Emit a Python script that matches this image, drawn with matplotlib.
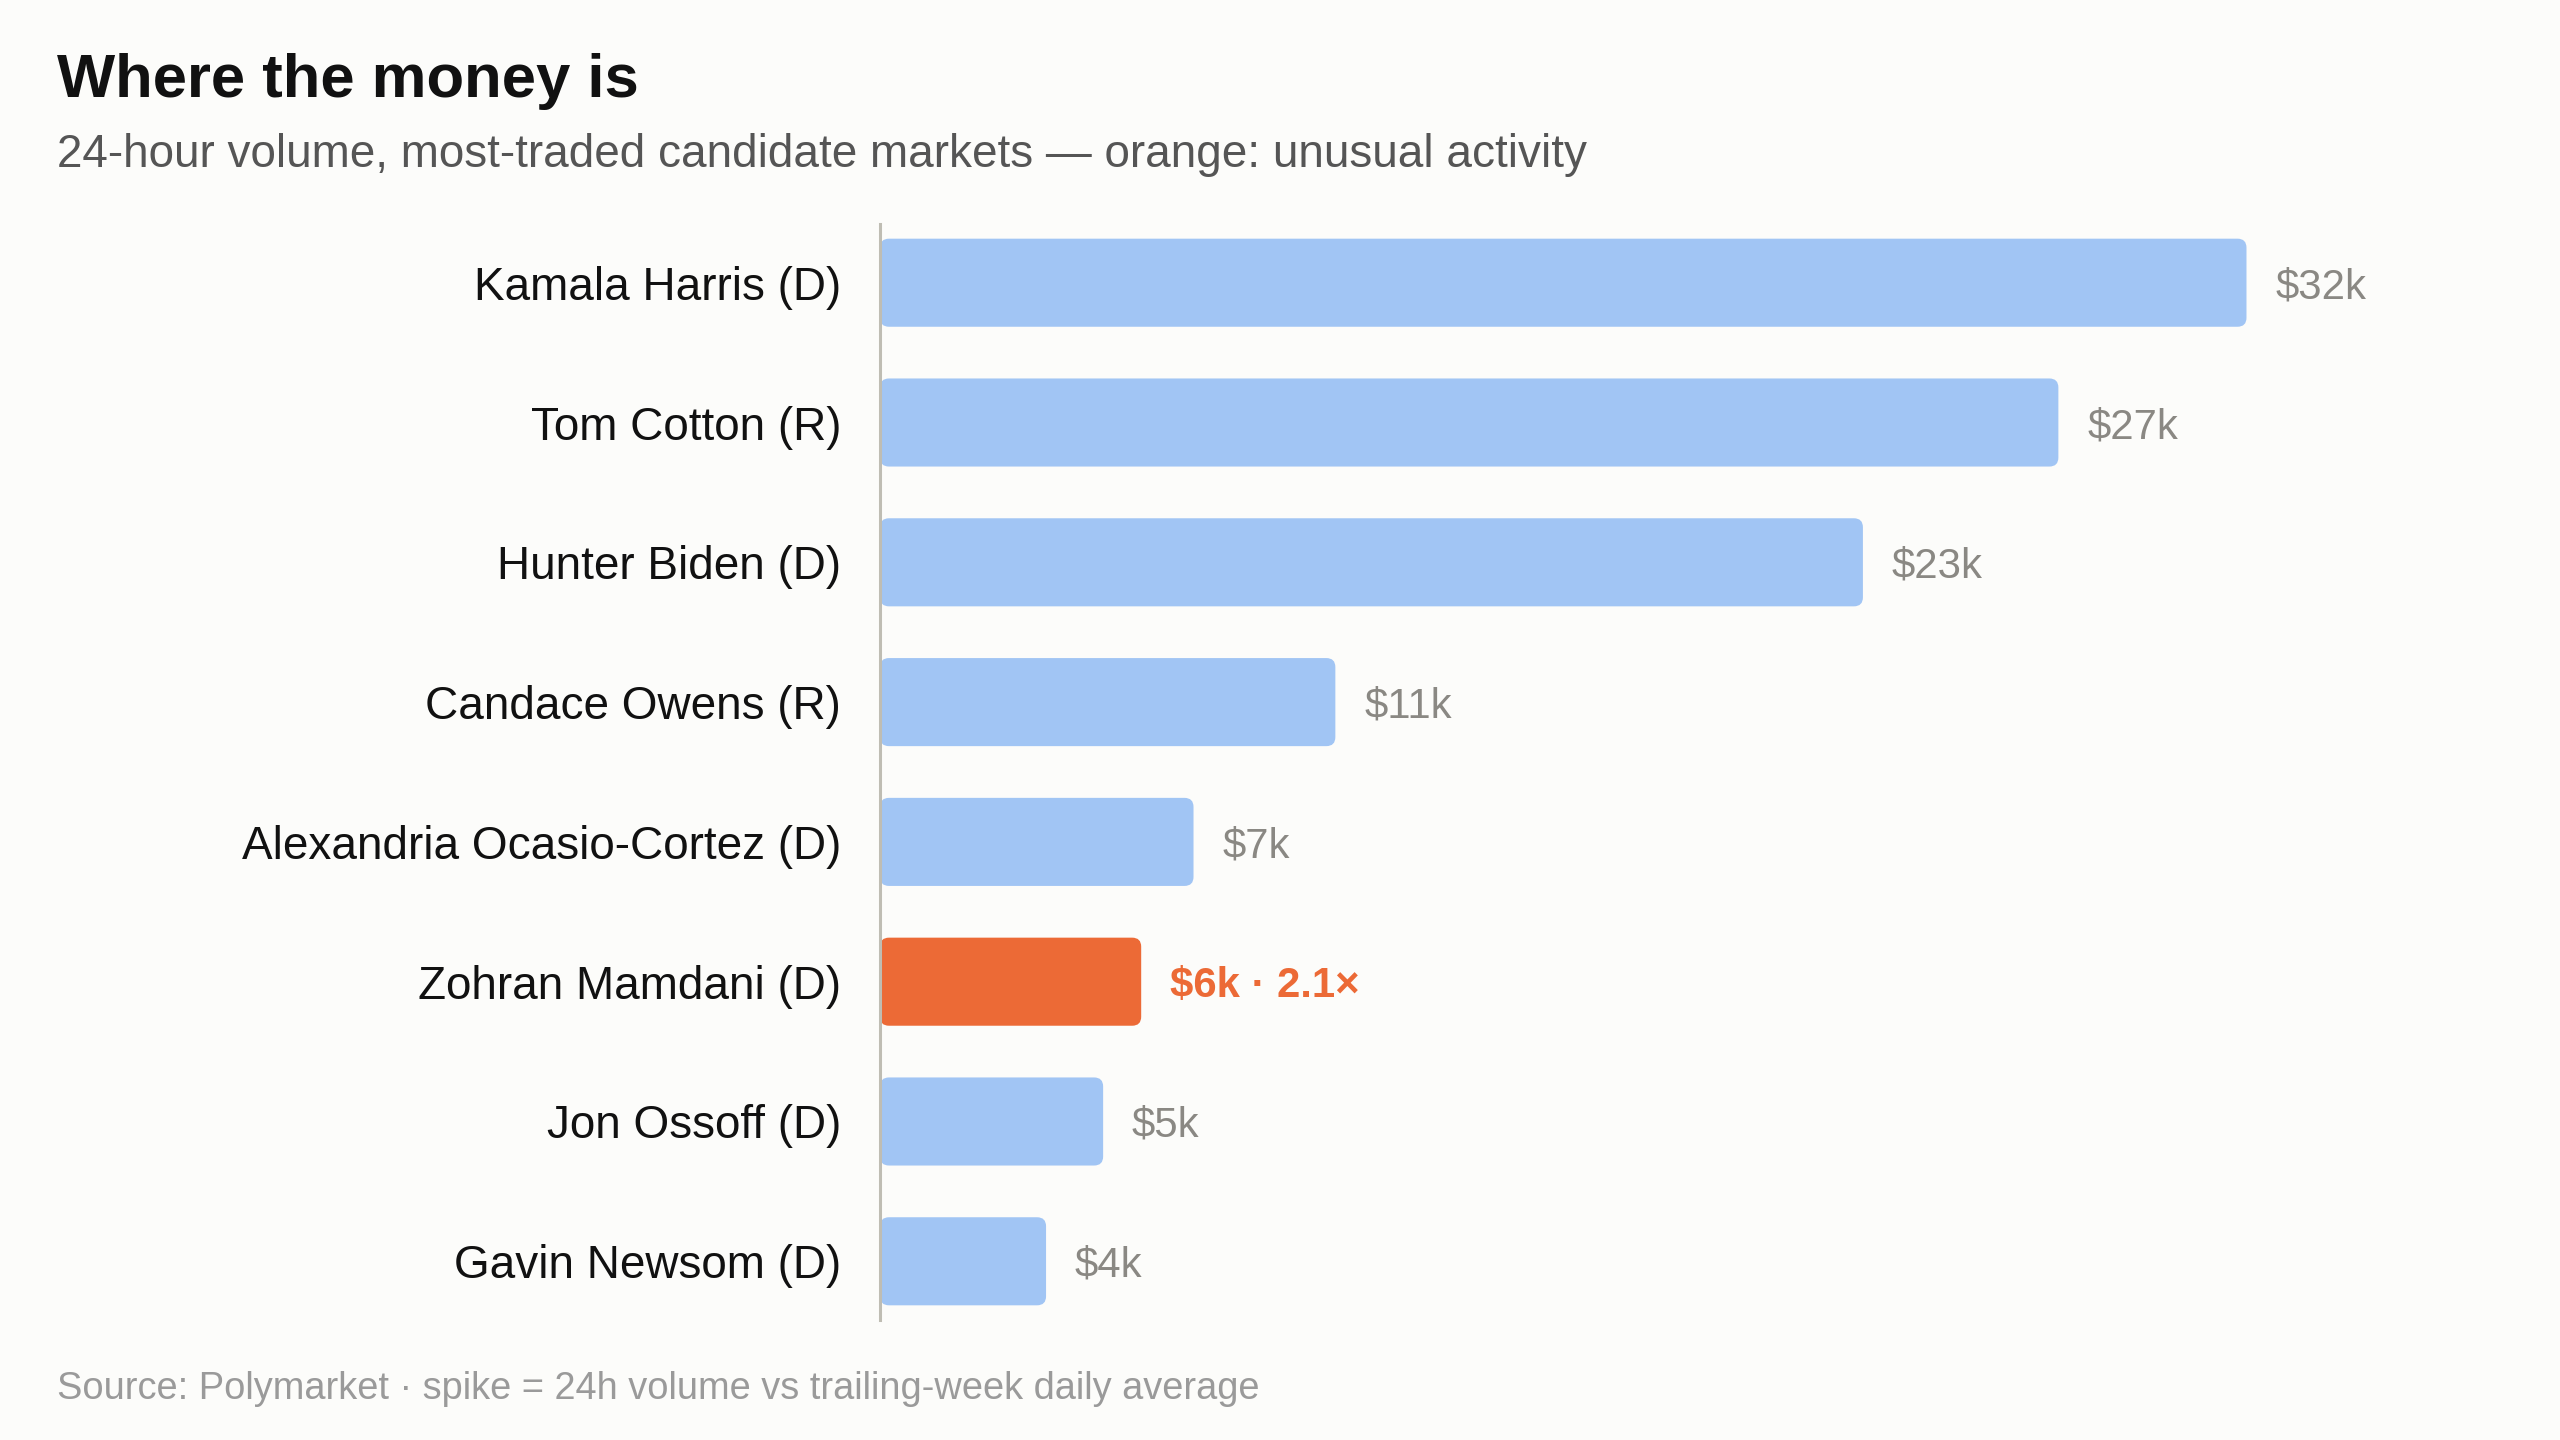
import matplotlib.pyplot as plt
from matplotlib.patches import FancyBboxPatch

plt.rcParams['font.family'] = ['Liberation Sans', 'DejaVu Sans']

# 24h volume per candidate market, in dollars
candidates = ["Kamala Harris (D)", "Tom Cotton (R)", "Hunter Biden (D)",
              "Candace Owens (R)", "Alexandria Ocasio-Cortez (D)",
              "Zohran Mamdani (D)", "Jon Ossoff (D)", "Gavin Newsom (D)"]
volume = [31600, 27250, 22730, 10530, 7250, 6040, 5160, 3840]
value_labels = ["$32k", "$27k", "$23k", "$11k", "$7k", "$6k · 2.1×", "$5k", "$4k"]
unusual = [False, False, False, False, False, True, False, False]

BG = "#fcfcfa"
BLUE = "#a1c5f4"
ORANGE = "#ec6a36"
GREY_TXT = "#8a8883"
SPINE = "#bfbdb3"

fig = plt.figure(figsize=(12.8, 7.2), dpi=200, facecolor=BG)
ax = fig.add_axes([880 / 2560, 120 / 1440, 1600 / 2560, 1096 / 1440])
ax.set_facecolor(BG)

ypos = list(range(len(candidates)))
colors = [ORANGE if u else BLUE for u in unusual]
bars = ax.barh(ypos, volume, height=0.63, color=colors)

ax.set_xlim(0, 37000)
ax.set_ylim(len(candidates) - 0.58, -0.42)

# swap the square bars for rounded ones
x_per_px = 37000 / 1600
y_per_px = (len(candidates) - 0.16) / 1096
for b, c in zip(bars, colors):
    x0, y0 = b.get_x(), b.get_y()
    w, h = b.get_width(), b.get_height()
    b.remove()
    ax.add_patch(FancyBboxPatch((x0, y0), w, h,
                                boxstyle="round,pad=0,rounding_size=%f" % (9 * x_per_px),
                                mutation_aspect=y_per_px / x_per_px,
                                facecolor=c, edgecolor="none", zorder=2))

for y, v, lab, u in zip(ypos, volume, value_labels, unusual):
    ax.annotate(lab, (v, y), xytext=(10.4, 0), textcoords="offset points",
                ha="left", va="center_baseline", fontsize=15.1,
                color=ORANGE if u else GREY_TXT,
                fontweight="bold" if u else "normal")

ax.set_yticks(ypos, candidates)
ax.tick_params(axis="y", length=0, pad=14, labelsize=16.5, labelcolor="#111111")
ax.set_xticks([])
for side in ["top", "right", "bottom"]:
    ax.spines[side].set_visible(False)
ax.spines["left"].set_color(SPINE)
ax.spines["left"].set_linewidth(1.1)
ax.spines["left"].set_zorder(3)

fig.text(57 / 2560, 1 - 97 / 1440, "Where the money is", fontsize=22.2,
         fontweight="bold", color="#111111", va="baseline", ha="left")
fig.text(57 / 2560, 1 - 167 / 1440,
         "24-hour volume, most-traded candidate markets — orange: unusual activity",
         fontsize=16.5, color="#555555", va="baseline", ha="left")
fig.text(57 / 2560, 1 - 1399 / 1440,
         "Source: Polymarket · spike = 24h volume vs trailing-week daily average",
         fontsize=13.7, color="#9a9a9a", va="baseline", ha="left")

fig.savefig("out.png", dpi=200, facecolor=BG)
